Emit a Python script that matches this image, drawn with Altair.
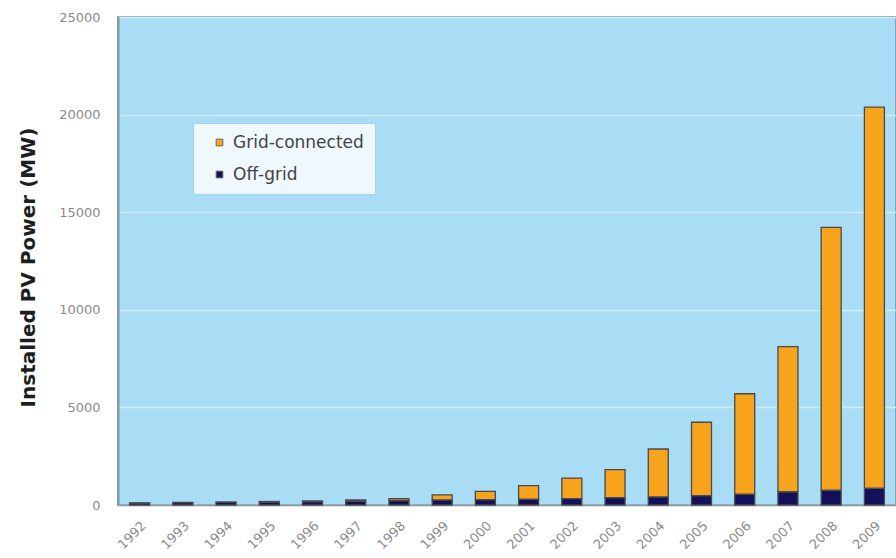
import altair as alt
import pandas as pd

years = ["1992", "1993", "1994", "1995", "1996", "1997", "1998", "1999", "2000",
         "2001", "2002", "2003", "2004", "2005", "2006", "2007", "2008", "2009"]
off_grid = [100, 120, 135, 150, 170, 200, 230, 260, 280, 300, 330, 380, 420, 480, 560, 680, 760, 860]
grid_connected = [10, 15, 20, 30, 40, 60, 100, 260, 420, 690, 1050, 1430, 2450, 3760, 5140, 7430, 13460, 19520]
series = ["Grid-connected", "Off-grid"]
series_colors = ["#f7a41c", "#15105c"]
y_ticks = [0, 5000, 10000, 15000, 20000, 25000]

rows = []
for i, yr in enumerate(years):
    rows.append({"year": yr, "type": "Off-grid", "value": off_grid[i], "order": 0})
    rows.append({"year": yr, "type": "Grid-connected", "value": grid_connected[i], "order": 1})
df = pd.DataFrame(rows)

chart = alt.Chart(df).mark_bar(size=20, stroke="#4a4a4a", strokeWidth=1.3).encode(
    x=alt.X("year:N", sort=years,
            axis=alt.Axis(title=None, labelAngle=-45, labelFont="DejaVu Sans", labelFontSize=13,
                          labelColor="#8a8a8a", ticks=False, labelPadding=14,
                          domainColor="#8a9aa3", domainWidth=1.5, grid=False)),
    y=alt.Y("value:Q", stack="zero",
            scale=alt.Scale(domain=[0, 25000], nice=False),
            axis=alt.Axis(title="Installed PV Power (MW)", values=y_ticks, format="d",
                          labelFont="DejaVu Sans", labelFontSize=13, labelColor="#8a8a8a",
                          ticks=False, labelPadding=18, domainColor="#7e98a6", domainWidth=2,
                          grid=True, gridColor="#cdeefc", gridWidth=1.5,
                          titleFont="DejaVu Sans", titleFontSize=20, titleFontWeight="bold",
                          titleColor="#1e1e1e", titleX=-90, titleY=250, titleAngle=270,
                          titleAlign="center", titleBaseline="middle")),
    color=alt.Color("type:N",
                    scale=alt.Scale(domain=series, range=series_colors),
                    legend=alt.Legend(title=None, orient="none", legendX=75, legendY=106,
                                      padding=11, fillColor="#eef8fd", strokeColor="#9fd3ee",
                                      symbolType="square", symbolSize=45, symbolOffset=7,
                                      symbolStrokeColor="#666666", symbolStrokeWidth=1,
                                      labelFont="DejaVu Sans", labelFontSize=17,
                                      labelColor="#444444", rowPadding=14, labelOffset=5)),
    order=alt.Order("order:Q"),
).properties(
    width=778,
    height=488,
    autosize=alt.AutoSizeParams(type="none"),
    padding={"left": 118, "top": 17, "right": 0, "bottom": 53},
    background="white",
).configure_view(
    fill="#a9dcf5", stroke="#8aa0ad", strokeWidth=2
)

chart.save("out.html", embed_options={"renderer": "svg", "actions": False})
